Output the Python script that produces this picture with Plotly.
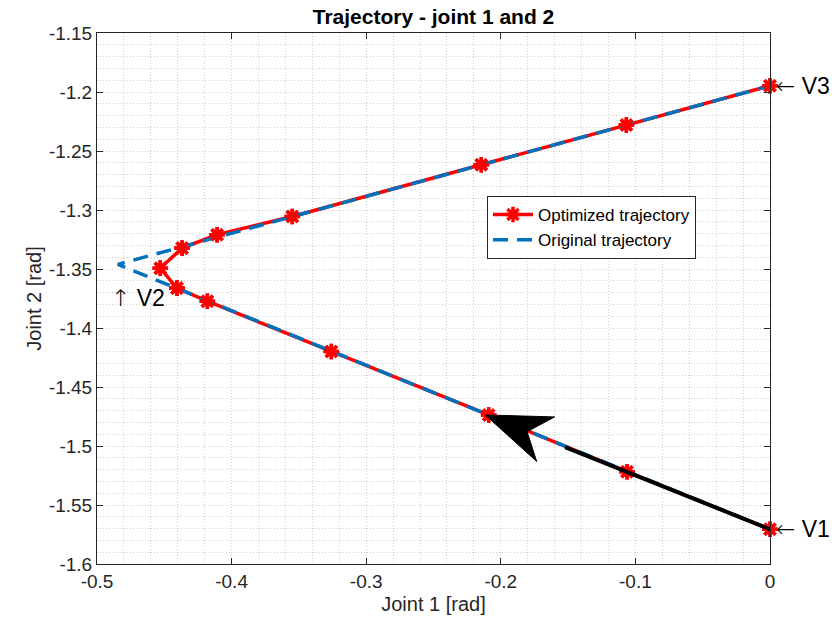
import numpy as np
import plotly.graph_objects as go

# Optimized trajectory samples (joint 1, joint 2) in rad
opt_j1 = [0.0, -0.1062, -0.2090, -0.3259, -0.4180, -0.4406, -0.4530, -0.4368, -0.4108, -0.3549, -0.2145, -0.1067, 0.0]
opt_j2 = [-1.5706, -1.5218, -1.4737, -1.4199, -1.3773, -1.3662, -1.3493, -1.3323, -1.3210, -1.3055, -1.2617, -1.2280, -1.1947]

# Original trajectory through the via points V1 -> V2 -> V3
orig_j1 = [0.0, -0.4845, 0.0]
orig_j2 = [-1.5706, -1.3461, -1.1947]

# Direction arrow (tail at V1, tip on the path)
arrow_tail = [0.0, -1.5706]
arrow_tip = [-0.2115, -1.4737]

# Via point labels: pointer glyph + name
via_glyphs = ["\u2190", "\u2191", "\u2190"]
via_names = ["V1", "V2", "V3"]
via_pos_j1 = [0.0, -0.494, 0.0]
via_pos_j2 = [-1.5706, -1.3745, -1.1947]

x_ticks = [-0.5, -0.4, -0.3, -0.2, -0.1, 0.0]
x_ticklabels = ["-0.5", "-0.4", "-0.3", "-0.2", "-0.1", "0"]
y_ticks = [-1.6, -1.55, -1.5, -1.45, -1.4, -1.35, -1.3, -1.25, -1.2, -1.15]
y_ticklabels = ["-1.6", "-1.55", "-1.5", "-1.45", "-1.4", "-1.35", "-1.3", "-1.25", "-1.2", "-1.15"]

W, H = 834, 634
ML, MR, MT, MB = 97, 64, 33, 70
x_range = [-0.5, 0.0]
y_range = [-1.6, -1.15]
kx = (W - ML - MR) / (x_range[1] - x_range[0])   # px per rad, x
ky = (H - MT - MB) / (y_range[1] - y_range[0])   # px per rad, y

# Arrow head geometry in screen pixels, mapped back into data units
dxp = (arrow_tip[0] - arrow_tail[0]) * kx
dyp = (arrow_tip[1] - arrow_tail[1]) * ky
L = np.hypot(dxp, dyp)
u = np.array([dxp, dyp]) / L
n = np.array([-u[1], u[0]])


def to_data(off):
    return arrow_tip[0] + off[0] / kx, arrow_tip[1] + off[1] / ky


head_len, notch, half_w, shaft_gap = 65, 45, 24, 86
head_pts = [
    to_data(np.zeros(2)),
    to_data(-u * head_len + n * half_w),
    to_data(-u * notch),
    to_data(-u * head_len - n * half_w),
    to_data(np.zeros(2)),
]
shaft_end = to_data(-u * shaft_gap)

RED = "#ff0000"
BLUE = "#0072bd"
AX = "#262626"
GRID = "#cfcfcf"
FONT = "Liberation Sans, Arial, sans-serif"

fig = go.Figure()

fig.add_trace(go.Scatter(
    x=opt_j1, y=opt_j2, mode="lines+markers", name="Optimized trajectory",
    line=dict(color=RED, width=3.5),
    marker=dict(symbol="asterisk-open", size=13, color=RED, line=dict(color=RED, width=3.5)),
    cliponaxis=False,
))
fig.add_trace(go.Scatter(
    x=orig_j1, y=orig_j2, mode="lines", name="Original trajectory",
    line=dict(color=BLUE, width=3.5, dash="15px,9px"),
))
fig.add_trace(go.Scatter(
    x=opt_j1, y=opt_j2, mode="markers", showlegend=False, hoverinfo="skip",
    marker=dict(symbol="asterisk-open", size=13, color=RED, line=dict(color=RED, width=3.5)),
    cliponaxis=False,
))
fig.add_trace(go.Scatter(
    x=[arrow_tail[0], shaft_end[0]], y=[arrow_tail[1], shaft_end[1]],
    mode="lines", showlegend=False, hoverinfo="skip",
    line=dict(color="black", width=4),
))
fig.add_trace(go.Scatter(
    x=[p[0] for p in head_pts], y=[p[1] for p in head_pts],
    mode="lines", fill="toself", fillcolor="black", showlegend=False, hoverinfo="skip",
    line=dict(color="black", width=1),
))

for g, name, xv, yv in zip(via_glyphs, via_names, via_pos_j1, via_pos_j2):
    fig.add_annotation(
        x=xv, y=yv,
        text=f'<span style="font-family:DejaVu Sans;font-weight:200">{g}</span> {name}',
        showarrow=False, xanchor="left", yanchor="middle",
        xshift=4, font=dict(family=FONT, size=23, color="black"),
    )

axis_common = dict(
    showline=True, linecolor=AX, linewidth=1, mirror="ticks",
    ticks="inside", ticklen=6, tickcolor=AX, tickwidth=1,
    tickfont=dict(family=FONT, size=19, color=AX),
    showgrid=True, gridcolor=GRID, griddash="1px,2px", gridwidth=1,
    zeroline=False,
)
minor_common = dict(showgrid=True, gridcolor=GRID, griddash="1px,2px", gridwidth=1)

fig.update_layout(
    width=W, height=H,
    margin=dict(l=ML, r=MR, t=MT, b=MB),
    paper_bgcolor="white", plot_bgcolor="white",
    title=dict(text="<b>Trajectory - joint 1 and 2</b>", x=(ML + (W - ML - MR) / 2) / W,
               xanchor="center", y=1 - 17 / H, yanchor="middle",
               font=dict(family=FONT, size=21, color="black")),
    xaxis=dict(range=x_range, tickvals=x_ticks, ticktext=x_ticklabels,
               title=dict(text="Joint 1 [rad]", font=dict(family=FONT, size=20, color=AX), standoff=6),
               minor=dict(dtick=0.02, tick0=-0.5, **minor_common),
               **axis_common),
    yaxis=dict(range=y_range, tickvals=y_ticks, ticktext=y_ticklabels,
               title=dict(text="Joint 2 [rad]", font=dict(family=FONT, size=20, color=AX), standoff=1),
               minor=dict(dtick=0.01, tick0=-1.6, **minor_common),
               **axis_common),
    legend=dict(x=(487 - ML) / (W - ML - MR), y=(H - MB - 196) / (H - MT - MB),
                xanchor="left", yanchor="top",
                bgcolor="white", bordercolor=AX, borderwidth=1,
                font=dict(family=FONT, size=17, color="black"),
                tracegroupgap=0, itemwidth=40),
    showlegend=True,
)

fig.write_html("out.html")
